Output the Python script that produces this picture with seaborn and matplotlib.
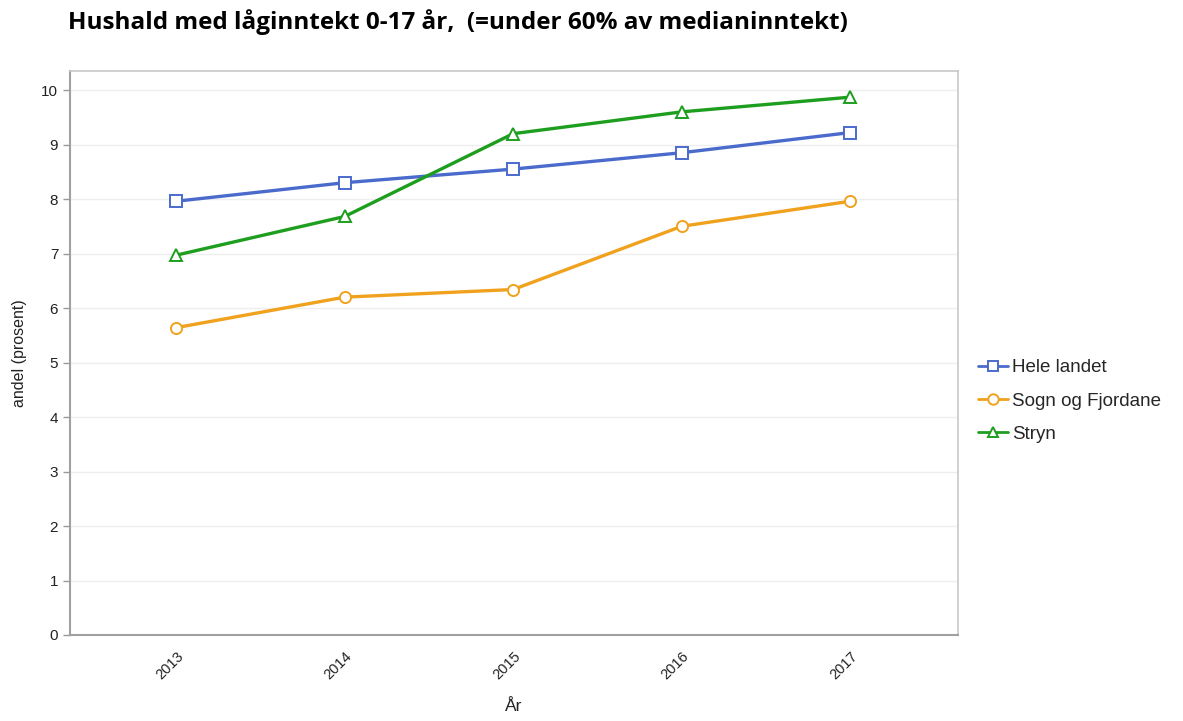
import matplotlib
matplotlib.use("Agg")
import matplotlib.pyplot as plt
import seaborn as sns
import pandas as pd

years = ["2013", "2014", "2015", "2016", "2017"]
hele_landet = [7.96, 8.3, 8.55, 8.85, 9.22]
sogn_og_fjordane = [5.64, 6.2, 6.34, 7.5, 7.96]
stryn = [6.97, 7.68, 9.2, 9.6, 9.87]

series_names = ["Hele landet", "Sogn og Fjordane", "Stryn"]
colors = ["#4a6bcc", "#f0a21e", "#1e9e1e"]
markers = ["s", "o", "^"]

df = pd.concat([
    pd.DataFrame({"År": years, "andel": vals, "serie": name})
    for name, vals in zip(series_names, [hele_landet, sogn_og_fjordane, stryn])
])

sns.set_theme(style="white")
plt.rcParams["font.family"] = ["Liberation Sans", "DejaVu Sans"]

fig = plt.figure(figsize=(11.83, 7.21), dpi=100)
ax = fig.add_axes([70 / 1183, 1 - 635 / 721, 888 / 1183, 564 / 721])

x_index = {y: i for i, y in enumerate(years)}
df["x"] = df["År"].map(x_index)

sns.lineplot(
    data=df, x="x", y="andel", hue="serie", style="serie",
    palette=dict(zip(series_names, colors)),
    markers=dict(zip(series_names, markers)),
    dashes=False, linewidth=2.4, markersize=8,
    markerfacecolor="white", markeredgewidth=1.4,
    ax=ax, legend=False,
)
# marker edges in series colour
for line, c in zip(ax.lines[:3], colors):
    line.set_markeredgecolor(c)

ax.set_xlim(-0.63, 4.64)
ax.set_ylim(0, 10.35)
ax.set_yticks(range(0, 11))
ax.set_xticks(range(len(years)))
ax.set_xticklabels(years, rotation=45, ha="right", rotation_mode="anchor")
ax.tick_params(axis="x", length=0, labelsize=10.5, colors="#222222", pad=10)
ax.tick_params(axis="y", length=5, width=1, color="#999999", labelsize=11,
               colors="#222222", left=True)
ax.grid(axis="y", color="#eeeeee", linewidth=1)
for side in ["left", "bottom"]:
    ax.spines[side].set_color("#a0a0a0")
    ax.spines[side].set_linewidth(1.5)
for side in ["top", "right"]:
    ax.spines[side].set_color("#c8c8c8")
    ax.spines[side].set_linewidth(1.2)
    ax.spines[side].set_visible(True)

ax.set_xlabel("År", fontsize=12.5, color="#222222", labelpad=12)
ax.set_ylabel("andel (prosent)", fontsize=11.5, color="#222222", labelpad=10)

# legend outside the plot area, built from the drawn series
handles = ax.lines[:3]
legend = fig.legend(handles, series_names, loc="center left",
                    bbox_to_anchor=(970 / 1183, 1 - 401 / 721),
                    frameon=False, fontsize=13.5, handlelength=1.6,
                    handletextpad=0.25, labelspacing=0.85, borderaxespad=0.0)
for h, c in zip(legend.legend_handles, colors):
    h.set_markerfacecolor("white")
    h.set_markeredgecolor(c)
    h.set_markersize(7.5)
    h.set_linewidth(2)

fig.text(68 / 1183, 1 - 22 / 721, "Hushald med låginntekt 0-17 år,  (=under 60% av medianinntekt)",
         fontsize=17.5, fontweight="bold", family=["Open Sans", "DejaVu Sans"],
         va="center", ha="left", color="#000000")

fig.savefig("out.png", dpi=100, facecolor="white")
